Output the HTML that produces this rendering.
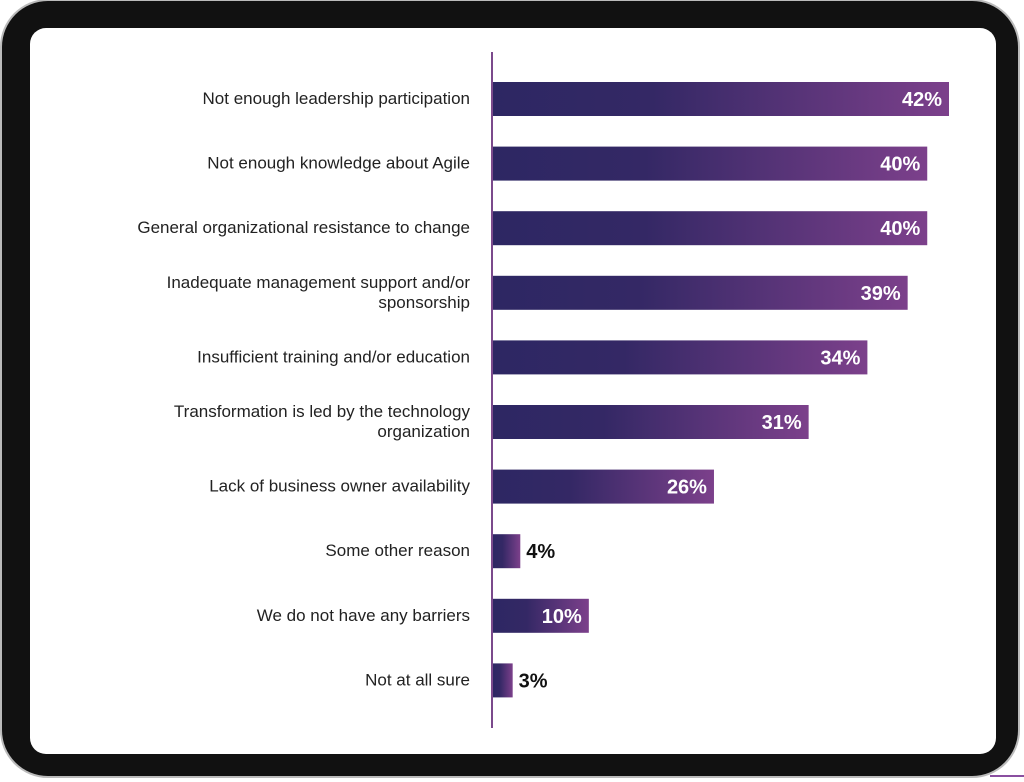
<!DOCTYPE html>
<html><head><meta charset="utf-8"><style>
html,body{margin:0;padding:0;background:#fff;}
body{width:1024px;height:782px;position:relative;overflow:hidden;font-family:"Liberation Sans",sans-serif;}
#frame{position:absolute;left:2px;top:1px;width:1016px;height:775px;background:#111;border-radius:46px;box-shadow:0 0 0 2px #bbb;}
#screen{position:absolute;left:30px;top:28px;width:966px;height:726px;background:#fff;border-radius:16px;}
#accent{position:absolute;left:990px;top:775px;width:34px;height:2px;background:#8a4fa0;}
svg{position:absolute;left:0;top:0;}
</style></head><body>
<div id="frame"></div>
<div id="screen"></div>
<div id="accent"></div>
<svg id="chart" width="1024" height="782">
<defs><linearGradient id="g" x1="0" x2="1" y1="0" y2="0">
<stop offset="0" stop-color="#2d2763"/><stop offset="0.35" stop-color="#342865"/><stop offset="1" stop-color="#7c408b"/>
</linearGradient></defs>
<line x1="492" y1="52" x2="492" y2="728" stroke="#7b4a8c" stroke-width="2"/>
</svg>
<script>
const categories=[["Not enough leadership participation"],["Not enough knowledge about Agile"],["General organizational resistance to change"],["Inadequate management support and/or","sponsorship"],["Insufficient training and/or education"],["Transformation is led by the technology","organization"],["Lack of business owner availability"],["Some other reason"],["We do not have any barriers"],["Not at all sure"]];
const values=[42,40,40,38.2,34.5,29.1,20.4,2.6,8.9,1.9];
const valueLabels=["42%","40%","40%","39%","34%","31%","26%","4%","10%","3%"];
const svg=document.getElementById('chart');
const NS='http://www.w3.org/2000/svg';
const x0=492, pxPer=457/42, top0=82, step=64.6, bh=34;
function xs(v){return x0+v*pxPer;}
function yc(i){return top0+i*step+bh/2;}
categories.forEach((lines,i)=>{
  const r=document.createElementNS(NS,'rect');
  r.setAttribute('x',x0+1);r.setAttribute('y',yc(i)-bh/2);
  r.setAttribute('width',xs(values[i])-x0-1);r.setAttribute('height',bh);
  r.setAttribute('fill','url(#g)');
  
  
  svg.appendChild(r);
  const t=document.createElementNS(NS,'text');
  const inside=(xs(values[i])-x0)>60;
  t.setAttribute('x',inside?xs(values[i])-7:xs(values[i])+6);
  t.setAttribute('y',yc(i)+7);
  t.setAttribute('text-anchor',inside?'end':'start');
  t.setAttribute('font-size','20');t.setAttribute('font-weight','bold');
  t.setAttribute('fill',inside?'#fff':'#111');
  t.textContent=valueLabels[i];
  
  
  svg.appendChild(t);
  const l=document.createElementNS(NS,'text');
  l.setAttribute('text-anchor','end');l.setAttribute('font-size','17');l.setAttribute('fill','#222');
  const n=lines.length;
  lines.forEach((s,k)=>{
    const ts=document.createElementNS(NS,'tspan');
    ts.setAttribute('x',470);
    ts.setAttribute('y',yc(i)+5+(k-(n-1)/2)*20);
    ts.textContent=s;
    l.appendChild(ts);
  });
  
  
  svg.appendChild(l);
});
</script>
</body></html>
